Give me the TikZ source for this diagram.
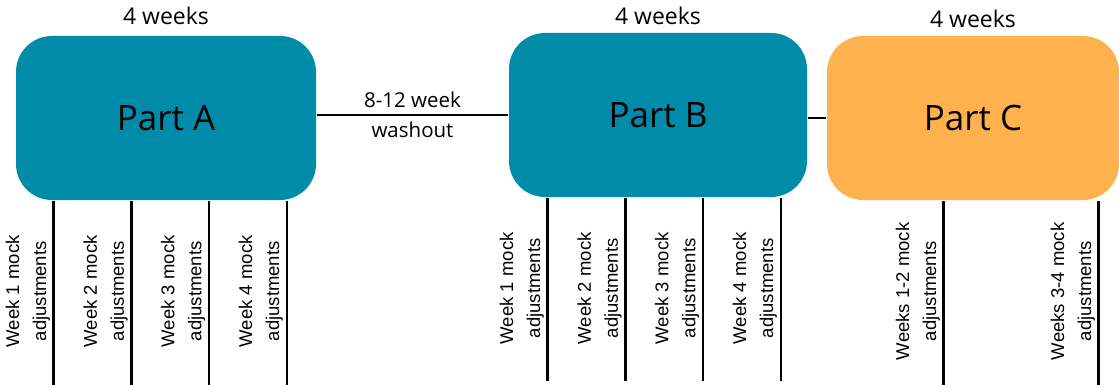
\documentclass[tikz,border=0pt]{standalone}
\usepackage{fontspec}
\setmainfont{Liberation Sans}
\newfontfamily\headfont{Open Sans}
\usetikzlibrary{positioning, calc}
\definecolor{partteal}{RGB}{0,139,168}
\definecolor{partorange}{RGB}{255,177,77}

\begin{document}
\begin{tikzpicture}[x=1pt, y=-1pt, line width=2.6pt,
	partbox/.style={rounded corners=36pt, minimum height=164pt, inner sep=0pt, text=black, font=\headfont\fontsize{35}{40}\selectfont},
	durlabel/.style={inner sep=0pt, font=\headfont\fontsize{23}{26}\selectfont},
	gaplabel/.style={align=center, inner sep=0pt, font=\headfont\fontsize{20.5}{30}\selectfont},
	mocklabel/.style={rotate=90, anchor=south, align=center, inner sep=1.5pt, font=\fontsize{18.5}{27}\selectfont}]
	
	\useasboundingbox (0,0) rectangle (1119,385);
	\coordinate (bottom) at (0,385);
	\coordinate (bottomB) at (0,381);
	
	\pgfmathsetmacro{\weekgap}{77.7}
	
	\node[partbox, fill=partteal, minimum width=300pt] (partA) at (166,118) {Part A};
	\node[partbox, fill=partteal, minimum width=298pt] (partB) at (658,115) {Part B};
	\node[partbox, fill=partorange, minimum width=292pt] (partC) at (973,118) {Part C};
	
	\node[durlabel, above=9pt of partA] (durA) {4 weeks};
	\node[durlabel, above=6pt of partB] (durB) {4 weeks};
	\node[durlabel, above=6pt of partC] (durC) {4 weeks};
	
	\draw (partA.east |- partB.west) -- (partB.west) node[gaplabel, midway] (washout) {8-12 week\\washout};
	\draw (partB.east |- partC.west) -- (partC.west);
	
	\foreach \i in {1,...,4} {
		\coordinate (aTop\i) at ($(partA.south west)+(39+\weekgap*\i-\weekgap,0)$);
		\draw (aTop\i) -- (aTop\i |- bottom);
		\node[mocklabel] (aWeek\i) at ($(aTop\i)+(-1,90)$) {Week \i{} mock\\adjustments};
		
		\coordinate (bTop\i) at ($(partB.south west)+(40+\weekgap*\i-\weekgap,0)$);
		\draw (bTop\i) -- (bTop\i |- bottomB);
		\node[mocklabel] (bWeek\i) at ($(bTop\i)+(-1,90)$) {Week \i{} mock\\adjustments};
	}
	
	\coordinate (cTop1) at ($(partC.south west)+(118,0)$);
	\coordinate (cTop2) at ($(partC.south west)+(273,0)$);
	\draw (cTop1) -- (cTop1 |- bottom);
	\draw (cTop2) -- (cTop2 |- bottom);
	\node[mocklabel] (cWeeks1) at ($(cTop1)+(-1,90)$) {Weeks 1-2 mock\\adjustments};
	\node[mocklabel] (cWeeks2) at ($(cTop2)+(-1,90)$) {Weeks 3-4 mock\\adjustments};
\end{tikzpicture}
\end{document}
